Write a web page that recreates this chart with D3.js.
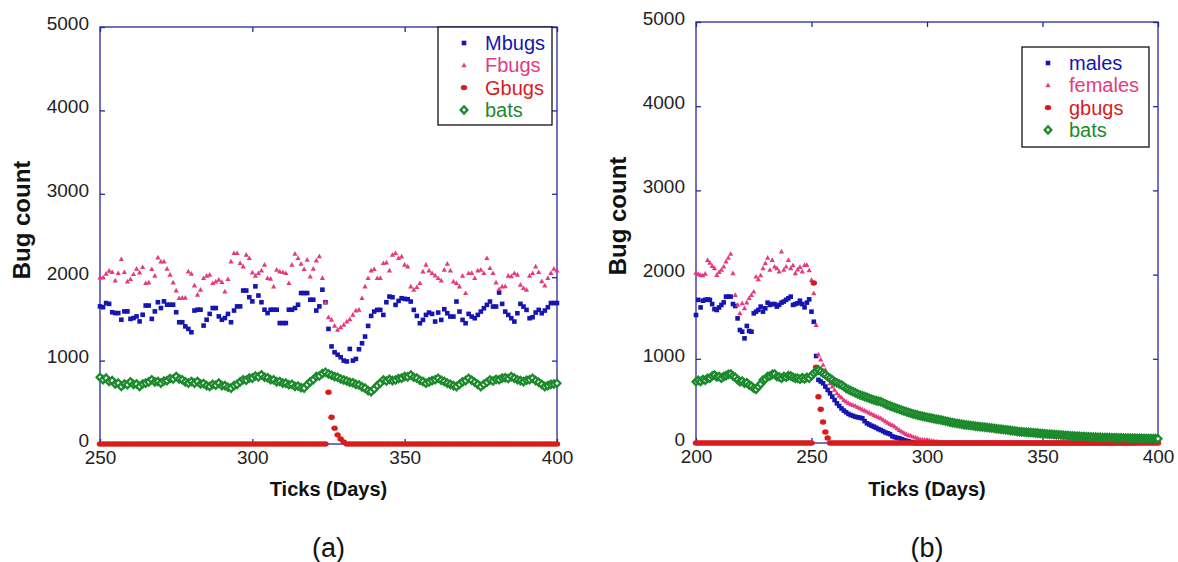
<!DOCTYPE html>
<html>
<head>
<meta charset="utf-8">
<script src="https://cdn.jsdelivr.net/npm/d3@7"></script>
<style>
  body { margin: 0; background: #fff; }
  svg { display: block; }
  text { font-family: "Liberation Sans", Arial, sans-serif; }
</style>
</head>
<body>
<svg id="chart" width="1178" height="562"></svg>
<script>
// ---- data ----
const yTicks = [0, 1000, 2000, 3000, 4000, 5000];
const xTicksA = [250, 300, 350, 400];
const xTicksB = [200, 250, 300, 350, 400];
const startA = 250;
const startB = 200;
const legendA = ['Mbugs', 'Fbugs', 'Gbugs', 'bats'];
const legendB = ['males', 'females', 'gbugs', 'bats'];

// panel (a): days 250..400
const mbugsA = [
  1650,1640,1690,1680,1580,1570,1570,1490,1590,1590,
  1500,1510,1530,1470,1550,1660,1660,1500,1590,1700,
  1630,1710,1670,1670,1670,1580,1460,1460,1410,1380,
  1340,1600,1610,1610,1420,1490,1560,1630,1630,1530,
  1490,1510,1560,1460,1600,1650,1650,1840,1840,1760,
  1710,1890,1780,1700,1610,1570,1610,1610,1610,1450,
  1450,1450,1610,1610,1630,1670,1810,1810,1810,1730,
  1730,1600,1650,1850,1700,
  1380,1170,1100,1070,1040,1000,990,1140,1000,1020,
  1136,1208,1288,1416,1536,1588,1608,1608,1548,1700,
  1768,1760,1668,1716,1748,1740,1736,1708,1608,1536,
  1448,1488,1548,1576,1560,1468,1576,1488,1616,1568,
  1528,1528,1708,1588,1488,1448,1560,1528,1508,1548,
  1588,1628,1668,1708,1648,1648,1816,1680,1588,1548,
  1508,1468,1568,1680,1648,1608,1508,1520,1576,1608,
  1568,1600,1640,1690,1690,1690
];
const fbugsA = [
  1996,1996,2040,2076,2060,1960,2048,2216,2060,1948,
  1976,2036,2100,2056,2120,1928,1936,2096,2016,2236,
  2188,2188,2100,2028,1936,1840,1748,1752,1752,2068,
  2040,1900,1788,1848,1988,2016,2028,1928,1948,1968,
  1940,1828,1976,2188,2288,2288,2168,2128,2268,2228,
  2056,2016,2048,2080,2148,1988,1980,1888,2088,2068,
  2060,2048,1928,2148,2280,2228,2160,2096,2208,2008,
  2100,2200,2250,1990,1700,
  1520,1488,1416,1368,1400,1428,1468,1496,1548,1600,
  1610,1748,1888,1988,2080,2096,1988,1990,2168,2176,
  2080,2268,2288,2228,2248,2148,2128,1888,1848,1880,
  1928,2068,2148,2080,2048,2020,1988,1960,2088,2160,
  2080,1948,1928,1888,2016,1808,2048,2050,1988,2080,
  2088,2048,2228,2108,2048,1936,1856,1888,1890,2016,
  2010,2048,2028,1908,1868,1848,2016,2048,2128,2060,
  1950,1900,1990,2050,2100,2080
];
const gbugsA = [
  0,0,0,0,0,0,0,0,0,0, 0,0,0,0,0,0,0,0,0,0,
  0,0,0,0,0,0,0,0,0,0, 0,0,0,0,0,0,0,0,0,0,
  0,0,0,0,0,0,0,0,0,0, 0,0,0,0,0,0,0,0,0,0,
  0,0,0,0,0,0,0,0,0,0, 0,0,0,0,0,
  620,320,190,110,60,25,0,0,0,0,
  0,0,0,0,0,0,0,0,0,0, 0,0,0,0,0,0,0,0,0,0,
  0,0,0,0,0,0,0,0,0,0, 0,0,0,0,0,0,0,0,0,0,
  0,0,0,0,0,0,0,0,0,0, 0,0,0,0,0,0,0,0,0,0,
  0,0,0,0,0,0
];
const batsA = [
  800,770,790,750,760,720,730,690,720,710,
  745,715,720,690,720,730,745,770,745,750,
  730,755,760,785,780,810,780,770,745,730,
  750,730,750,720,725,700,690,715,705,730,
  700,700,680,670,700,715,745,770,765,790,
  790,815,805,830,800,795,770,770,745,750,
  730,730,710,715,690,695,675,670,710,745,
  770,810,815,845,860,840,825,808,800,780,
  768,755,740,735,715,708,685,670,640,628,
  660,700,730,768,755,775,760,768,785,790,
  810,805,828,800,790,765,750,728,745,760,
  770,788,765,750,730,715,700,688,715,745,
  760,788,765,740,715,688,715,740,768,755,
  775,770,790,795,785,808,790,770,760,748,
  765,770,788,760,740,715,688,700,715,720,
  728
];

// panel (b): days 200..400
const malesB = [
  1520,1700,1610,1690,1700,1705,1700,1650,1590,1580,
  1610,1640,1670,1738,1738,1738,1650,1627,1480,1342,
  1322,1243,1390,1330,1322,1540,1560,1580,1620,1560,
  1600,1667,1640,1650,1650,1620,1640,1667,1680,1700,
  1718,1738,1640,1650,1660,1690,1650,1611,1667,1706,
  1560,1440,1033,
  750,730,710,670,630,590,550,510,471,440,
  410,385,365,345,332,322,312,305,300,293,
  260,234,220,205,194,180,165,154,140,125,
  115,105,80,70,62,57,45,35,28,20,
  12,5,
  0,0,0,0,0,0,0,0,0,0, 0,0,0,0,0,0,0,0,0,0,
  0,0,0,0,0,0,0,0,0,0, 0,0,0,0,0,0,0,0,0,0,
  0,0,0,0,0,0,0,0,0,0, 0,0,0,0,0,0,0,0,0,0,
  0,0,0,0,0,0,0,0,0,0, 0,0,0,0,0,0,0,0,0,0,
  0,0,0,0,0,0,0,0,0,0, 0,0,0,0,0,0
];
const femalesB = [
  2020,2007,1995,1990,2010,2173,2140,2102,2074,1995,
  2030,2055,2094,2154,2200,2245,2015,1757,1640,1540,
  1660,1600,1667,1720,1757,1797,1975,1944,1990,2074,
  2134,2200,2055,2173,2094,2074,2035,2273,2055,2094,
  2173,2074,2110,2015,2060,2090,2035,2114,2114,2050,
  1936,1777,1400,
  1050,990,927,870,790,709,670,630,590,560,
  540,510,491,475,460,451,440,425,412,398,
  385,372,358,345,332,318,305,293,275,258,
  240,225,214,195,175,154,135,120,107,95,
  85,75,65,55,44,40,38,36,32,26,
  22,16,10,5,
  0,0,0,0,0,0,0,0,0,0, 0,0,0,0,0,0,0,0,0,0,
  0,0,0,0,0,0,0,0,0,0, 0,0,0,0,0,0,0,0,0,0,
  0,0,0,0,0,0,0,0,0,0, 0,0,0,0,0,0,0,0,0,0,
  0,0,0,0,0,0,0,0,0,0, 0,0,0,0,0,0,0,0,0,0,
  0,0,0,0,0,0,0,0,0,0, 0,0,0,0
];
const gbugsB = [
  0,0,0,0,0,0,0,0,0,0, 0,0,0,0,0,0,0,0,0,0,
  0,0,0,0,0,0,0,0,0,0, 0,0,0,0,0,0,0,0,0,0,
  0,0,0,0,0,0,0,0,0,0, 0,
  1900,900,550,400,250,130,60,
  0,0,0,0,0,0,0,0,0,0, 0,0,0,0,0,0,0,0,0,0,
  0,0,0,0,0,0,0,0,0,0, 0,0,0,0,0,0,0,0,0,0,
  0,0,0,0,0,0,0,0,0,0, 0,0,0,0,0,0,0,0,0,0,
  0,0,0,0,0,0,0,0,0,0, 0,0,0,0,0,0,0,0,0,0,
  0,0,0,0,0,0,0,0,0,0, 0,0,0,0,0,0,0,0,0,0,
  0,0,0,0,0,0,0,0,0,0, 0,0,0,0,0,0,0,0,0,0,
  0,0,0,0,0,0,0,0,0,0, 0,0,0,0,0,0,0,0,0,0,
  0,0,0
];
const batsB = [
  728,745,730,755,745,770,770,795,808,785,
  790,768,790,800,815,820,795,780,750,728,
  735,710,716,690,675,650,637,670,700,748,
  760,790,795,815,820,790,785,768,790,780,
  800,796,780,770,770,756,775,760,780,768,
  800,828,850,
  867,850,828,810,788,770,750,728,715,700,
  689,670,649,635,622,610,596,583,570,561,
  551,542,531,520,510,503,496,490,477,464,
  451,441,430,420,410,400,390,381,372,363,
  354,345,338,331,324,318,311,305,300,294,
  289,283,278,273,267,261,255,248,242,237,
  232,228,223,218,214,210,207,204,200,197,
  194,190,187,184,180,177,174,170,167,164,
  160,157,154,150,146,142,138,134,132,130,
  128,126,124,122,119,117,114,112,109,107,
  105,103,101,99,97,95,93,90,88,86,
  83,82,80,79,77,76,75,74,72,71,
  70,68,67,66,66,65,64,63,63,62,
  61,61,60,59,59,58,57,57,56,55,
  55,54,54,53,53,52,52,51
];

// ---- styles ----
const colors = { m: '#1515b2', f: '#e63a7e', g: '#d81c1c', b: '#1c8a2c' };
const axisColor = '#27279c';

const svg = d3.select('#chart');

function drawMarker(sel, kind, color) {
    if (kind === 'm') {
        sel.append('rect').attr('x', -2.3).attr('y', -2.3).attr('width', 4.6).attr('height', 4.6)
            .attr('fill', color);
    } else if (kind === 'f') {
        sel.append('path').attr('d', 'M0,-2.8L2.6,1.9L-2.6,1.9Z').attr('fill', color);
    } else if (kind === 'g') {
        sel.append('ellipse').attr('rx', 3.2).attr('ry', 2.7).attr('fill', color);
    } else {
        sel.append('path').attr('d', 'M0,-3.6L3.4,0L0,3.6L-3.4,0Z')
            .attr('fill', '#fff').attr('stroke', color).attr('stroke-width', 2.3);
    }
}

function drawPanel(cfg) {
    const x = d3.scaleLinear().domain(cfg.domain).range([cfg.left, cfg.right]);
    const y = d3.scaleLinear().domain([0, 5000]).range([cfg.bottom, cfg.top]);
    const g = svg.append('g');

    // box
    g.append('rect')
        .attr('x', cfg.left).attr('y', cfg.top)
        .attr('width', cfg.right - cfg.left).attr('height', cfg.bottom - cfg.top)
        .attr('fill', 'none').attr('stroke', axisColor).attr('stroke-width', 1.3);

    // axes, ticks point inward
    const fmt = d3.format('d');
    const bottom = g.append('g').attr('transform', `translate(0,${cfg.bottom})`)
        .call(d3.axisBottom(x).tickValues(cfg.xTicks).tickFormat(fmt)
            .tickSizeInner(-5).tickSizeOuter(0).tickPadding(7));
    const top = g.append('g').attr('transform', `translate(0,${cfg.top})`)
        .call(d3.axisTop(x).tickValues(cfg.xTicks).tickSizeInner(-5).tickSizeOuter(0).tickFormat(''));
    const left = g.append('g').attr('transform', `translate(${cfg.left},0)`)
        .call(d3.axisLeft(y).tickValues(yTicks).tickFormat(fmt)
            .tickSizeInner(-5).tickSizeOuter(0).tickPadding(11));
    const right = g.append('g').attr('transform', `translate(${cfg.right},0)`)
        .call(d3.axisRight(y).tickValues(yTicks).tickSizeInner(-5).tickSizeOuter(0).tickFormat(''));

    [bottom, top, left, right].forEach(a => {
        a.select('.domain').remove();
        a.selectAll('line').attr('stroke', axisColor).attr('stroke-width', 1.3);
        a.selectAll('text').attr('font-size', 19).attr('fill', '#222')
            .attr('font-family', '"Liberation Sans", Arial, sans-serif');
    });
    left.selectAll('text').attr('dy', '0.12em');

    // series, drawn in legend order
    cfg.series.forEach(s => {
        g.append('g').selectAll('g')
            .data(s.values)
            .join('g')
            .attr('transform', (d, i) => `translate(${x(cfg.start + i)},${y(d)})`)
            .each(function () { drawMarker(d3.select(this), s.kind, colors[s.kind]); });
    });

    // legend
    const lg = g.append('g');
    lg.append('rect')
        .attr('x', cfg.legend.x).attr('y', cfg.legend.y)
        .attr('width', cfg.legend.w).attr('height', cfg.legend.h)
        .attr('fill', '#fff').attr('stroke', '#111').attr('stroke-width', 1.3);
    cfg.series.forEach((s, i) => {
        const ry = cfg.legend.y + 16 + i * 22.3;
        const m = lg.append('g').attr('transform', `translate(${cfg.legend.x + 26},${ry})`);
        drawMarker(m, s.kind, colors[s.kind]);
        lg.append('text')
            .attr('x', cfg.legend.x + 47).attr('y', ry).attr('dy', '0.35em')
            .attr('font-size', 20).attr('fill', colors[s.kind])
            .text(cfg.labels[i]);
    });

    // titles
    const cx = (cfg.left + cfg.right) / 2;
    g.append('text')
        .attr('x', cx).attr('y', 496)
        .attr('text-anchor', 'middle').attr('font-size', 20).attr('font-weight', 'bold')
        .attr('fill', '#111')
        .text('Ticks (Days)');
    g.append('text')
        .attr('transform', `translate(${cfg.left - 70},${cfg.yTitle}) rotate(-90)`)
        .attr('text-anchor', 'middle').attr('font-size', 24).attr('font-weight', 'bold')
        .attr('fill', '#111')
        .text('Bug count');
    g.append('text')
        .attr('x', cx).attr('y', 557)
        .attr('text-anchor', 'middle').attr('font-size', 27)
        .attr('font-family', '"Liberation Serif", "Times New Roman", serif')
        .attr('fill', '#111')
        .text(cfg.caption);
}

drawPanel({
    domain: [250, 400], xTicks: xTicksA, start: startA,
    left: 100, right: 557, top: 27, bottom: 444, yTitle: 220,
    series: [
        { kind: 'm', values: mbugsA },
        { kind: 'f', values: fbugsA },
        { kind: 'g', values: gbugsA },
        { kind: 'b', values: batsA }
    ],
    labels: legendA,
    legend: { x: 438, y: 27, w: 114, h: 98 },
    caption: '(a)'
});

drawPanel({
    domain: [200, 400], xTicks: xTicksB, start: startB,
    left: 696, right: 1158, top: 22, bottom: 443, yTitle: 216,
    series: [
        { kind: 'm', values: malesB },
        { kind: 'f', values: femalesB },
        { kind: 'g', values: gbugsB },
        { kind: 'b', values: batsB }
    ],
    labels: legendB,
    legend: { x: 1022, y: 47, w: 127, h: 100 },
    caption: '(b)'
});
</script>
</body>
</html>
